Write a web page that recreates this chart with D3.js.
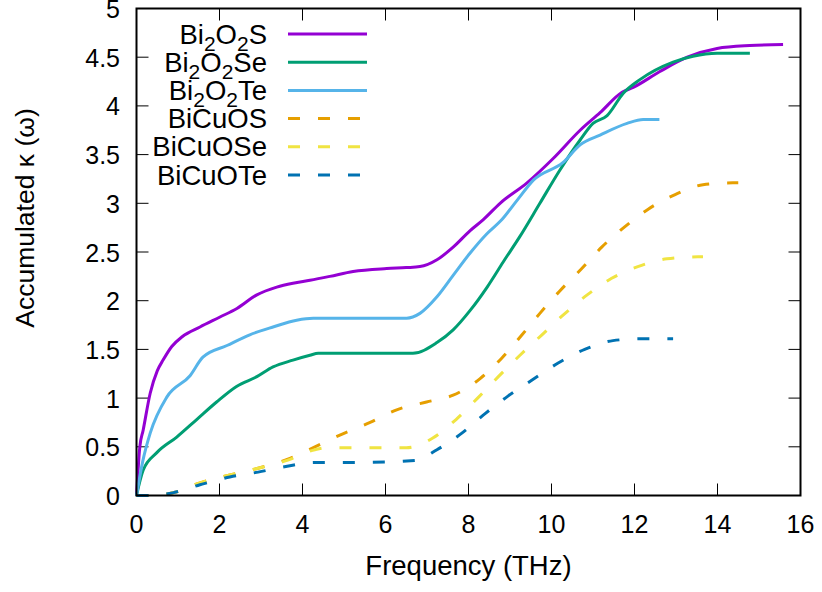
<!DOCTYPE html>
<html>
<head>
<meta charset="utf-8">
<script src="https://cdn.jsdelivr.net/npm/d3@7"></script>
<style>
  body { margin: 0; background: #fff; }
  text { font-family: "Liberation Sans", Arial, sans-serif; fill: #000; }
</style>
</head>
<body>
<div id="chart"></div>
<script>
// accumulated thermal conductivity vs frequency

const xTicks = [0, 2, 4, 6, 8, 10, 12, 14, 16];
const yTicks = [0, 0.5, 1, 1.5, 2, 2.5, 3, 3.5, 4, 4.5, 5];

const freqBi2O2S = [0, 0.08, 0.16, 0.33, 0.5, 0.64, 0.85, 1.1, 1.53, 2.0, 2.42, 2.9, 3.38, 3.77, 4.18, 4.66, 5.22, 6.03, 6.5, 6.83, 7.24, 7.63, 8.04, 8.35, 8.76, 9.41, 10.04, 10.69, 11.17, 11.7, 11.97, 12.6, 13.27, 13.99, 14.78, 15.58];
const kappaBi2O2S = [0, 0.5, 0.67, 1.05, 1.28, 1.39, 1.53, 1.63, 1.73, 1.83, 1.92, 2.06, 2.14, 2.18, 2.21, 2.25, 2.3, 2.33, 2.34, 2.35, 2.42, 2.55, 2.72, 2.83, 3.0, 3.21, 3.46, 3.75, 3.93, 4.14, 4.19, 4.35, 4.5, 4.59, 4.62, 4.63];

const freqBi2O2Se = [0, 0.16, 0.49, 0.97, 1.45, 1.93, 2.41, 2.9, 3.29, 3.77, 4.18, 4.38, 5.5, 6.66, 7.24, 7.63, 8.04, 8.45, 8.84, 9.24, 9.72, 10.2, 10.69, 11.0, 11.34, 11.73, 12.13, 12.93, 13.41, 13.99, 14.78];
const kappaBi2O2Se = [0, 0.26, 0.44, 0.6, 0.78, 0.96, 1.12, 1.22, 1.32, 1.39, 1.44, 1.46, 1.46, 1.46, 1.57, 1.7, 1.9, 2.14, 2.4, 2.66, 3.0, 3.34, 3.65, 3.82, 3.9, 4.13, 4.27, 4.45, 4.51, 4.54, 4.54];

const freqBi2O2Te = [0, 0.15, 0.33, 0.73, 1.29, 1.6, 2.18, 2.73, 3.29, 3.86, 4.26, 5.5, 6.51, 6.83, 7.24, 7.63, 8.04, 8.45, 8.8, 9.17, 9.57, 10.28, 10.69, 11.17, 11.82, 12.21, 12.6];
const kappaBi2O2Te = [0, 0.35, 0.64, 1.01, 1.23, 1.42, 1.54, 1.65, 1.73, 1.8, 1.82, 1.82, 1.82, 1.87, 2.04, 2.26, 2.49, 2.69, 2.83, 3.03, 3.24, 3.42, 3.6, 3.7, 3.82, 3.86, 3.86];

const freqBiCuOS = [0, 0.4, 0.9, 1.53, 2.25, 2.93, 3.63, 4.3, 4.9, 5.63, 6.27, 6.99, 7.63, 8.28, 8.8, 9.29, 9.72, 10.2, 10.73, 11.21, 11.77, 12.33, 12.98, 13.65, 14.37, 14.5];
const kappaBiCuOS = [0, 0.0, 0.03, 0.13, 0.21, 0.28, 0.37, 0.5, 0.62, 0.75, 0.88, 0.96, 1.03, 1.2, 1.41, 1.65, 1.87, 2.1, 2.33, 2.55, 2.76, 2.94, 3.09, 3.19, 3.21, 3.21];

const freqBiCuOSe = [0, 0.4, 0.9, 1.53, 2.25, 2.93, 3.63, 4.3, 4.6, 5.5, 6.5, 7.14, 7.7, 8.22, 8.72, 9.24, 9.77, 10.3, 10.86, 11.45, 12.08, 12.78, 13.53, 13.65];
const kappaBiCuOSe = [0, 0.0, 0.03, 0.13, 0.21, 0.28, 0.36, 0.47, 0.49, 0.49, 0.49, 0.59, 0.78, 1.0, 1.22, 1.44, 1.65, 1.86, 2.06, 2.23, 2.35, 2.43, 2.45, 2.45];

const freqBiCuOTe = [0, 0.4, 0.9, 1.53, 2.25, 2.93, 3.63, 4.3, 5.5, 6.7, 7.24, 7.84, 8.4, 8.95, 9.55, 10.16, 10.8, 11.48, 12.2, 12.93];
const kappaBiCuOTe = [0, 0.0, 0.03, 0.11, 0.19, 0.24, 0.3, 0.34, 0.34, 0.36, 0.47, 0.64, 0.84, 1.02, 1.19, 1.36, 1.5, 1.59, 1.61, 1.61];

// label parts: [text, isSubscript]
const labels = [
  [["Bi", 0], ["2", 1], ["O", 0], ["2", 1], ["S", 0]],
  [["Bi", 0], ["2", 1], ["O", 0], ["2", 1], ["Se", 0]],
  [["Bi", 0], ["2", 1], ["O", 0], ["2", 1], ["Te", 0]],
  [["BiCuOS", 0]],
  [["BiCuOSe", 0]],
  [["BiCuOTe", 0]],
];
const colors = ["#9400d3", "#009e73", "#56b4e9", "#e69f00", "#f0e442", "#0072b2"];
const dashed = [false, false, false, true, true, true];

const series = [
  [freqBi2O2S, kappaBi2O2S],
  [freqBi2O2Se, kappaBi2O2Se],
  [freqBi2O2Te, kappaBi2O2Te],
  [freqBiCuOS, kappaBiCuOS],
  [freqBiCuOSe, kappaBiCuOSe],
  [freqBiCuOTe, kappaBiCuOTe],
].map(([f, k]) => f.map((d, i) => [d, k[i]]));

const width = 822;
const height = 592;
const plot = { left: 136.5, right: 800.5, top: 8.5, bottom: 495.5 };

const x = d3.scaleLinear().domain([0, 16]).range([plot.left, plot.right]);
const y = d3.scaleLinear().domain([0, 5]).range([plot.bottom, plot.top]);

const svg = d3
  .select("#chart")
  .append("svg")
  .attr("width", width)
  .attr("height", height);

const tickLen = 12;

// ticks on all four sides, pointing inwards
const ticks = svg.append("g").attr("stroke", "#000").attr("stroke-width", 1);
xTicks.forEach((t) => {
  ticks.append("line").attr("x1", x(t)).attr("x2", x(t)).attr("y1", plot.bottom).attr("y2", plot.bottom - tickLen);
  ticks.append("line").attr("x1", x(t)).attr("x2", x(t)).attr("y1", plot.top).attr("y2", plot.top + tickLen);
});
yTicks.forEach((t) => {
  ticks.append("line").attr("x1", plot.left).attr("x2", plot.left + tickLen).attr("y1", y(t)).attr("y2", y(t));
  ticks.append("line").attr("x1", plot.right).attr("x2", plot.right - tickLen).attr("y1", y(t)).attr("y2", y(t));
});

svg
  .append("g")
  .selectAll("text")
  .data(xTicks)
  .join("text")
  .attr("x", (d) => x(d))
  .attr("y", 533)
  .attr("text-anchor", "middle")
  .attr("font-size", 25)
  .text((d) => d);

svg
  .append("g")
  .selectAll("text")
  .data(yTicks)
  .join("text")
  .attr("x", 120)
  .attr("y", (d) => y(d) + 9.5)
  .attr("text-anchor", "end")
  .attr("font-size", 25)
  .text((d) => d);

svg
  .append("text")
  .attr("x", (plot.left + plot.right) / 2)
  .attr("y", 575)
  .attr("text-anchor", "middle")
  .attr("font-size", 27.5)
  .text("Frequency (THz)");

svg
  .append("text")
  .attr("transform", "translate(34,218) rotate(-90)")
  .attr("text-anchor", "middle")
  .attr("font-size", 26.5)
  .text("Accumulated κ (ω)");

// curves
const line = d3
  .line()
  .curve(d3.curveMonotoneX)
  .x((d) => x(d[0]))
  .y((d) => y(d[1]));

svg
  .append("g")
  .selectAll("path")
  .data(series)
  .join("path")
  .attr("fill", "none")
  .attr("stroke", (d, i) => colors[i])
  .attr("stroke-width", 3)
  .attr("stroke-dasharray", (d, i) => (dashed[i] ? "12,18" : null))
  .attr("d", line);

// legend
const legend = svg.append("g");
labels.forEach((parts, i) => {
  const ly = 34 + i * 28.2;
  const t = legend
    .append("text")
    .attr("x", 267)
    .attr("y", ly + 9.5)
    .attr("text-anchor", "end")
    .attr("font-size", 27.5);
  parts.forEach(([s, sub]) => {
    t.append("tspan")
      .attr("font-size", sub ? 21 : 27.5)
      .attr("dy", sub ? 7 : (t.selectAll("tspan").size() > 1 ? -7 : 0))
      .text(s);
  });
  legend
    .append("line")
    .attr("x1", 288)
    .attr("x2", 367)
    .attr("y1", ly)
    .attr("y2", ly)
    .attr("stroke", colors[i])
    .attr("stroke-width", 3)
    .attr("stroke-dasharray", dashed[i] ? "12,18" : null);
});

// border
svg
  .append("rect")
  .attr("x", plot.left)
  .attr("y", plot.top)
  .attr("width", plot.right - plot.left)
  .attr("height", plot.bottom - plot.top)
  .attr("fill", "none")
  .attr("stroke", "#000")
  .attr("stroke-width", 2);
</script>
</body>
</html>
